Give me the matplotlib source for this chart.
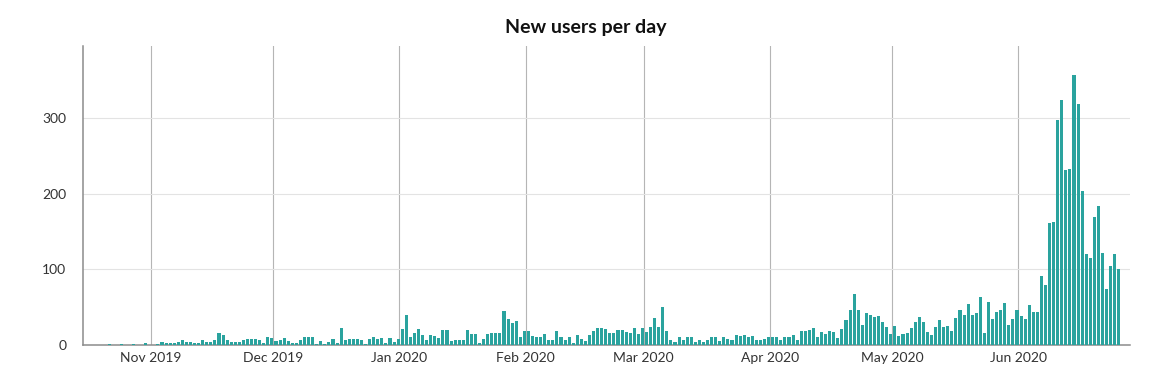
import datetime as dt
import matplotlib
matplotlib.use("Agg")
import matplotlib.pyplot as plt
import matplotlib.dates as mdates
import numpy as np

start_date = dt.date(2019, 10, 15)
oct_vals = [0, 0, 0, 0, 0, 0, 0, 1, 0, 0, 1, 0, 0, 1, 0, 0, 2]
nov_vals = [0, 0, 1, 4, 2, 2, 3, 4, 6, 4, 4, 3, 3, 6, 4, 4, 6, 16, 13, 6, 4, 4, 4, 7, 8, 8, 8, 6, 2, 10]
dec_vals = [9, 5, 7, 9, 5, 2, 2, 6, 11, 10, 11, 1, 5, 1, 4, 8, 2, 22, 6, 8, 8, 8, 7, 1, 8, 11, 8, 9, 3, 9, 4]
jan_vals = [8, 21, 40, 11, 16, 21, 13, 7, 13, 12, 9, 20, 20, 5, 6, 6, 6, 20, 15, 14, 3, 8, 15, 16, 16, 16, 45, 35, 29, 32, 10]
feb_vals = [19, 19, 12, 10, 11, 15, 6, 7, 19, 10, 7, 11, 3, 13, 8, 5, 13, 19, 22, 23, 21, 16, 16, 20, 20, 17, 16, 22, 15]
mar_vals = [22, 17, 24, 36, 24, 50, 19, 7, 4, 10, 6, 11, 11, 4, 6, 4, 7, 10, 11, 5, 10, 8, 7, 13, 12, 13, 11, 12, 7, 7, 8]
apr_vals = [11, 10, 11, 7, 10, 11, 13, 7, 18, 19, 20, 23, 10, 17, 15, 18, 17, 9, 21, 33, 46, 68, 46, 26, 42, 40, 37, 38, 30, 24]
may_vals = [15, 25, 12, 14, 16, 23, 30, 37, 31, 17, 13, 24, 33, 24, 25, 18, 36, 46, 39, 54, 39, 42, 63, 16, 57, 34, 43, 46, 56, 26, 34]
jun_vals = [46, 38, 34, 53, 44, 43, 91, 79, 161, 163, 297, 324, 231, 233, 357, 318, 203, 120, 115, 169, 184, 122, 74, 105, 120, 100]

title = "New users per day"
y_ticks = [0, 100, 200, 300]
month_ticks = [dt.date(2019, 11, 1), dt.date(2019, 12, 1), dt.date(2020, 1, 1), dt.date(2020, 2, 1),
               dt.date(2020, 3, 1), dt.date(2020, 4, 1), dt.date(2020, 5, 1), dt.date(2020, 6, 1)]

values = oct_vals + nov_vals + dec_vals + jan_vals + feb_vals + mar_vals + apr_vals + may_vals + jun_vals
dates = [start_date + dt.timedelta(days=i) for i in range(len(values))]
xnum = mdates.date2num(dates) - 0.3

plt.rcParams['font.family'] = ['Lato', 'DejaVu Sans']

fig = plt.figure(figsize=(11.54, 3.72), dpi=100)
ax = fig.add_axes([83 / 1154, 27 / 372, (1130 - 83) / 1154, (345 - 46) / 372])

ax.bar(xnum, values, width=0.75, color='#2aa39e', linewidth=0, zorder=3)

ax.set_xlim(mdates.date2num(dt.date(2019, 10, 15)) + 0.3, mdates.date2num(dt.date(2020, 6, 28)) + 0.45)
ax.set_ylim(0, 395)

ax.set_yticks(y_ticks)
ax.set_xticks(mdates.date2num(month_ticks))
ax.set_xticklabels([d.strftime('%b %Y') for d in month_ticks])

ax.yaxis.grid(True, color='#e3e3e3', linewidth=0.8, zorder=0)
ax.xaxis.grid(True, color='#b5b5b5', linewidth=0.8, zorder=0)
ax.set_axisbelow(True)

for s in ['top', 'right']:
    ax.spines[s].set_visible(False)
for s in ['left', 'bottom']:
    ax.spines[s].set_color('#8c8c8c')
    ax.spines[s].set_linewidth(1.1)

ax.tick_params(axis='both', length=0, labelsize=10, colors='#333333')
ax.tick_params(axis='y', pad=12)
ax.tick_params(axis='x', pad=5)

fig.text(586 / 1154, 1 - 28 / 372, title, ha='center', va='center', fontsize=14,
         fontweight='bold', color='#111111')

fig.savefig('out.png', dpi=100)
